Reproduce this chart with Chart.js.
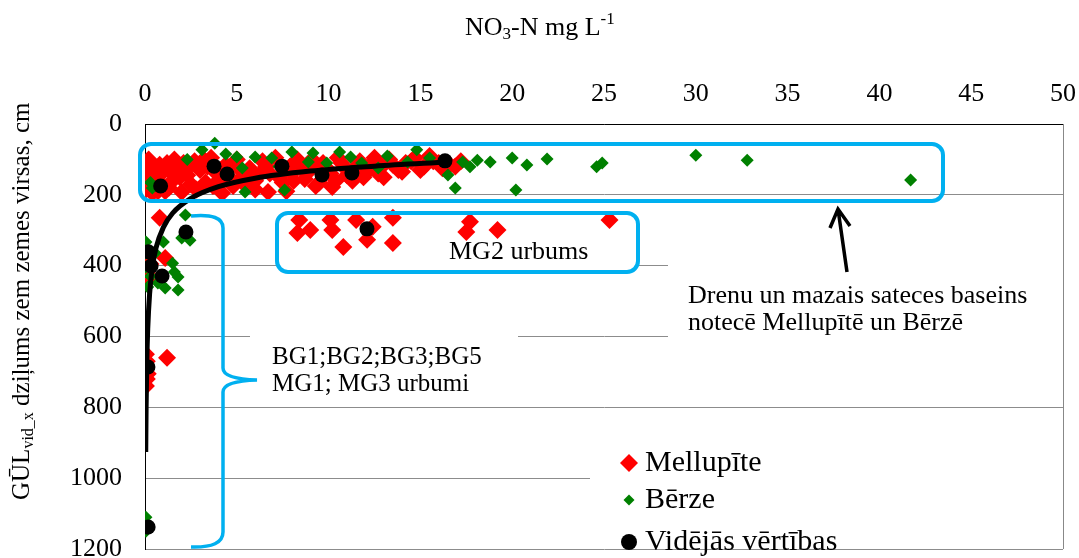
<!DOCTYPE html>
<html>
<head>
<meta charset="utf-8">
<script src="https://cdn.jsdelivr.net/npm/chart.js@4/dist/chart.umd.min.js"></script>
<style>
  html, body { margin: 0; padding: 0; background: #fff; }
  #wrap { width: 1079px; height: 558px; }
</style>
</head>
<body>
<div id="wrap"><canvas id="chart" width="1079" height="558"></canvas></div>
<script>
// NO3-N (mg/L) vs depth of groundwater level (cm)
const melX = [0.05, 0.05, 0.3, 0.5, 0.6, 0.9, 1.2, 1.5, 1.8, 2.0, 2.3, 2.7, 3.0, 3.3, 3.6, 3.9, 4.2, 4.4, 4.8, 5.0,
  5.3, 5.7, 6.0, 6.4, 6.7, 6.8, 7.1, 7.5, 7.9, 8.3, 8.7, 9.0, 9.3, 9.7, 10.2, 10.1, 10.5, 10.9, 11.3, 11.7,
  12.1, 12.5, 12.9, 13.3, 13.8, 14.2, 14.7, 15.2, 15.7, 16.2, 16.6, 1.0, 2.5, 0.2, 1.4, 0.7, 3.4, 5.9, 8.0, 9.5,
  11.0, 13.0, 2.1, 4.0,
  0.2, 0.4, 0.8, 1.1, 1.6, 1.9, 2.4, 2.8, 3.2, 3.7, 4.1, 4.6, 5.1, 5.5, 6.2, 6.6, 7.3, 7.7, 8.1, 8.5,
  9.1, 9.5, 9.9, 10.4, 10.7, 11.4, 11.9, 12.3, 12.7, 13.5, 14.0, 14.5, 15.0, 15.5, 16.0, 16.9, 17.2, 0.1, 1.3, 6.0,
  0.8, 0.05, 0.05, 0.1, 0.1, 0.3, 1.1,
  0.05, 0.1, 0.05, 0.15, 0.1, 0.05, 1.2,
  8.4, 8.3, 9.0, 10.1, 10.2, 10.8, 11.5, 12.1, 12.4, 13.5, 13.5, 17.7, 17.5, 19.2, 25.3];
const melY = [130, 185, 150, 120, 170, 140, 110, 160, 125, 192, 145, 105, 130, 165, 95, 140, 195, 115, 175, 100,
  150, 125, 185, 105, 192, 140, 95, 165, 120, 100, 155, 130, 175, 110, 178, 140, 95, 125, 160, 105,
  135, 95, 120, 100, 130, 110, 95, 120, 105, 125, 115, 175, 170, 160, 135, 190, 120, 150, 140, 120,
  145, 150, 110, 160,
  100, 195, 115, 190, 100, 150, 120, 185, 100, 175, 130, 150, 125, 175, 145, 120, 150, 190, 160, 125,
  100, 165, 125, 160, 110, 125, 150, 115, 140, 115, 135, 105, 130, 90, 110, 120, 105, 155, 180, 160,
  265, 380, 400, 420, 440, 395, 378,
  650, 670, 690, 705, 720, 740, 660,
  271, 308, 299, 271, 299, 347, 271, 327, 290, 265, 336, 276, 305, 299, 271];

const berX = [0.4, 0.3, 3.1, 3.8, 5.0, 5.3, 5.45, 6.0, 6.9, 7.6, 8.0, 8.9, 9.15, 9.9, 10.6, 11.2, 12.7, 14.3, 14.8, 15.5,
  16.5, 16.9, 17.3, 18.1, 17.7, 18.8, 20.0, 20.2, 20.8, 21.9, 24.6, 24.9, 30.0, 32.8, 41.7, 2.3, 4.4, 13.2, 7.3, 11.8,
  2.2, 2.45, 2.0, 0.05, 1.0, 0.05, 0.05, 1.5, 1.6, 1.8, 1.1, 1.8, 0.15, 0.7, 0.55, 0.3,
  0.05, 0.05, 0.05];
const berY = [181, 165, 73, 54, 93, 124, 192, 93, 96, 186, 79, 107, 82, 110, 79, 93, 124, 107, 73, 96,
  144, 181, 107, 102, 121, 107, 96, 186, 116, 99, 121, 110, 88, 102, 158, 100, 85, 90, 120, 110,
  257, 328, 322, 333, 333, 364, 404, 393, 418, 432, 463, 469, 460, 449, 364, 430,
  1110, 1130, 1150];

const avgX = [0.85, 3.76, 4.47, 7.46, 9.64, 11.27, 16.34, 12.09, 2.23, 0.18, 0.33, 0.93, 0.16, 0.17];
const avgY = [175, 119, 141, 119, 144, 138, 104, 296, 305, 361, 401, 429, 686, 1138];

// trend curve as traced on the picture
const trendX = [0.04, 0.06, 0.1, 0.15, 0.25, 0.4, 0.6, 1, 1.5, 2.5, 4, 6, 9, 12.5, 16.5];
const trendY = [926, 801, 667, 577, 480, 405, 350, 292, 252, 210, 177, 153, 133, 119, 107];

const yTicks = [0, 200, 400, 600, 800, 1000, 1200];
const legendNames = ['Mellupīte', 'Bērze', 'Vidējās vērtības'];

const pts = (xs, ys) => xs.map((x, i) => ({ x: x, y: ys[i] }));

const SERIF = '"Liberation Serif", "Times New Roman", serif';
const BLUE = '#00B0F0';

const noPad = s => { s.paddingTop = 0; s.paddingBottom = 0; s.paddingLeft = 0; s.paddingRight = 0; };

const annot = {
  id: 'annot',
  beforeDatasetsDraw(chart) {
    const ctx = chart.ctx;
    ctx.save();
    ctx.fillStyle = '#fff';
    ctx.fillRect(250, 332, 268, 70);   // BG... text box
    ctx.fillRect(668, 262, 395, 78);   // Drenu... text box
    ctx.fillRect(590, 440, 473, 107);  // legend box
    ctx.beginPath();
    ctx.roundRect(277, 213, 361, 59, 11); // MG2 frame background
    ctx.fill();
    ctx.restore();
  },
  afterDraw(chart) {
    const ctx = chart.ctx;
    const a = chart.chartArea;
    ctx.save();
    // right border
    ctx.strokeStyle = '#888';
    ctx.lineWidth = 1;
    ctx.beginPath();
    ctx.moveTo(a.right + 0.5, a.top);
    ctx.lineTo(a.right + 0.5, a.bottom);
    ctx.stroke();

    // blue frames
    ctx.strokeStyle = BLUE;
    ctx.lineWidth = 4;
    ctx.beginPath();
    ctx.roundRect(140, 144, 803, 57, 11);
    ctx.stroke();
    ctx.beginPath();
    ctx.roundRect(277, 213, 361, 59, 11);
    ctx.stroke();

    // brace
    ctx.lineWidth = 3.5;
    ctx.beginPath();
    ctx.moveTo(191, 216);
    ctx.quadraticCurveTo(223, 213, 223, 228);
    ctx.lineTo(223, 368);
    ctx.quadraticCurveTo(223, 379, 257, 380);
    ctx.quadraticCurveTo(223, 381, 223, 392);
    ctx.lineTo(223, 532);
    ctx.quadraticCurveTo(223, 548, 191, 547);
    ctx.stroke();

    // arrow
    ctx.strokeStyle = '#000';
    ctx.lineWidth = 3.5;
    ctx.beginPath();
    ctx.moveTo(847, 272);
    ctx.lineTo(838, 209);
    ctx.moveTo(830, 228);
    ctx.lineTo(838, 209);
    ctx.lineTo(850, 226);
    ctx.stroke();

    // annotation texts
    ctx.fillStyle = '#000';
    ctx.font = '26px ' + SERIF;
    ctx.textBaseline = 'middle';
    ctx.textAlign = 'left';
    ctx.fillText('MG2 urbums', 449, 252);
    ctx.fillText('Drenu un mazais sateces baseins', 688, 296);
    ctx.fillText('notecē Mellupītē un Bērzē', 688, 323);
    ctx.font = '25px ' + SERIF;
    ctx.fillText('BG1;BG2;BG3;BG5', 272, 357);
    ctx.fillText('MG1; MG3 urbumi', 272, 384);

    // legend
    const ds = chart.data.datasets;
    const rows = [463, 500, 542];
    const sizes = [9, 5.5, 8];
    ctx.font = '30px ' + SERIF;
    legendNames.forEach((name, i) => {
      const d = ds[i];
      const r = sizes[i];
      ctx.fillStyle = d.backgroundColor;
      ctx.beginPath();
      if (d.pointStyle === 'rectRot') {
        ctx.moveTo(629, rows[i] - r);
        ctx.lineTo(629 + r, rows[i]);
        ctx.lineTo(629, rows[i] + r);
        ctx.lineTo(629 - r, rows[i]);
        ctx.closePath();
      } else {
        ctx.arc(629, rows[i], r, 0, Math.PI * 2);
      }
      ctx.fill();
      ctx.fillStyle = '#000';
      ctx.fillText(name, 645, rows[i]);
    });

    // top axis title: NO3-N mg L-1
    ctx.font = '26px ' + SERIF;
    const small = '17px ' + SERIF;
    let x = 465, y = 28;
    ctx.fillText('NO', x, y); x += ctx.measureText('NO').width;
    ctx.font = small; ctx.fillText('3', x, y + 7); x += ctx.measureText('3').width;
    ctx.font = '26px ' + SERIF; ctx.fillText('-N mg L', x, y); x += ctx.measureText('-N mg L').width;
    ctx.font = small; ctx.fillText('-1', x, y - 8);

    // left axis title
    ctx.translate(22, 500);
    ctx.rotate(-Math.PI / 2);
    x = 0; y = 0;
    ctx.font = '25px ' + SERIF;
    ctx.fillText('GŪL', x, y); x += ctx.measureText('GŪL').width;
    ctx.font = '16px ' + SERIF; ctx.fillText('vid_x', x, y + 7); x += ctx.measureText('vid_x').width;
    ctx.font = '25px ' + SERIF; ctx.fillText(' dziļums zem zemes virsas, cm', x, y);
    ctx.restore();
  }
};

new Chart(document.getElementById('chart'), {
  type: 'scatter',
  data: {
    datasets: [{
      label: legendNames[0],
      data: pts(melX, melY),
      pointStyle: 'rectRot',
      pointRadius: 9,
      backgroundColor: '#FF0000',
      borderWidth: 0,
      order: 3
    }, {
      label: legendNames[1],
      data: pts(berX, berY),
      pointStyle: 'rectRot',
      pointRadius: 6.5,
      backgroundColor: '#008000',
      borderWidth: 0,
      order: 2
    }, {
      label: legendNames[2],
      data: pts(avgX, avgY),
      pointStyle: 'circle',
      pointRadius: 7.5,
      backgroundColor: '#000000',
      borderWidth: 0,
      order: 0
    }, {
      label: 'trend',
      data: pts(trendX, trendY),
      showLine: true,
      borderColor: '#000000',
      borderWidth: 5,
      pointRadius: 0,
      cubicInterpolationMode: 'monotone',
      order: 1
    }]
  },
  options: {
    responsive: false,
    animation: false,
    layout: { padding: { top: 0, right: 16, bottom: 9, left: 0 } },
    plugins: {
      legend: { display: false },
      tooltip: { enabled: false }
    },
    scales: {
      x: {
        type: 'linear',
        position: 'top',
        min: 0,
        max: 50,
        afterFit: s => { s.height = 124; noPad(s); },
        ticks: { stepSize: 5, color: '#000', font: { family: SERIF, size: 26 }, padding: 14 },
        grid: { display: false, drawTicks: false },
        border: { color: '#000', width: 1 }
      },
      y: {
        reverse: true,
        min: 0,
        max: 1200,
        afterFit: s => { s.width = 145; noPad(s); },
        afterBuildTicks: s => { s.ticks = yTicks.map(v => ({ value: v })); },
        ticks: { color: '#000', font: { family: SERIF, size: 26 }, padding: 23, callback: v => String(v) },
        grid: { color: '#8c8c8c', drawTicks: false },
        border: { color: '#000', width: 1 }
      }
    }
  },
  plugins: [annot]
});
</script>
</body>
</html>
